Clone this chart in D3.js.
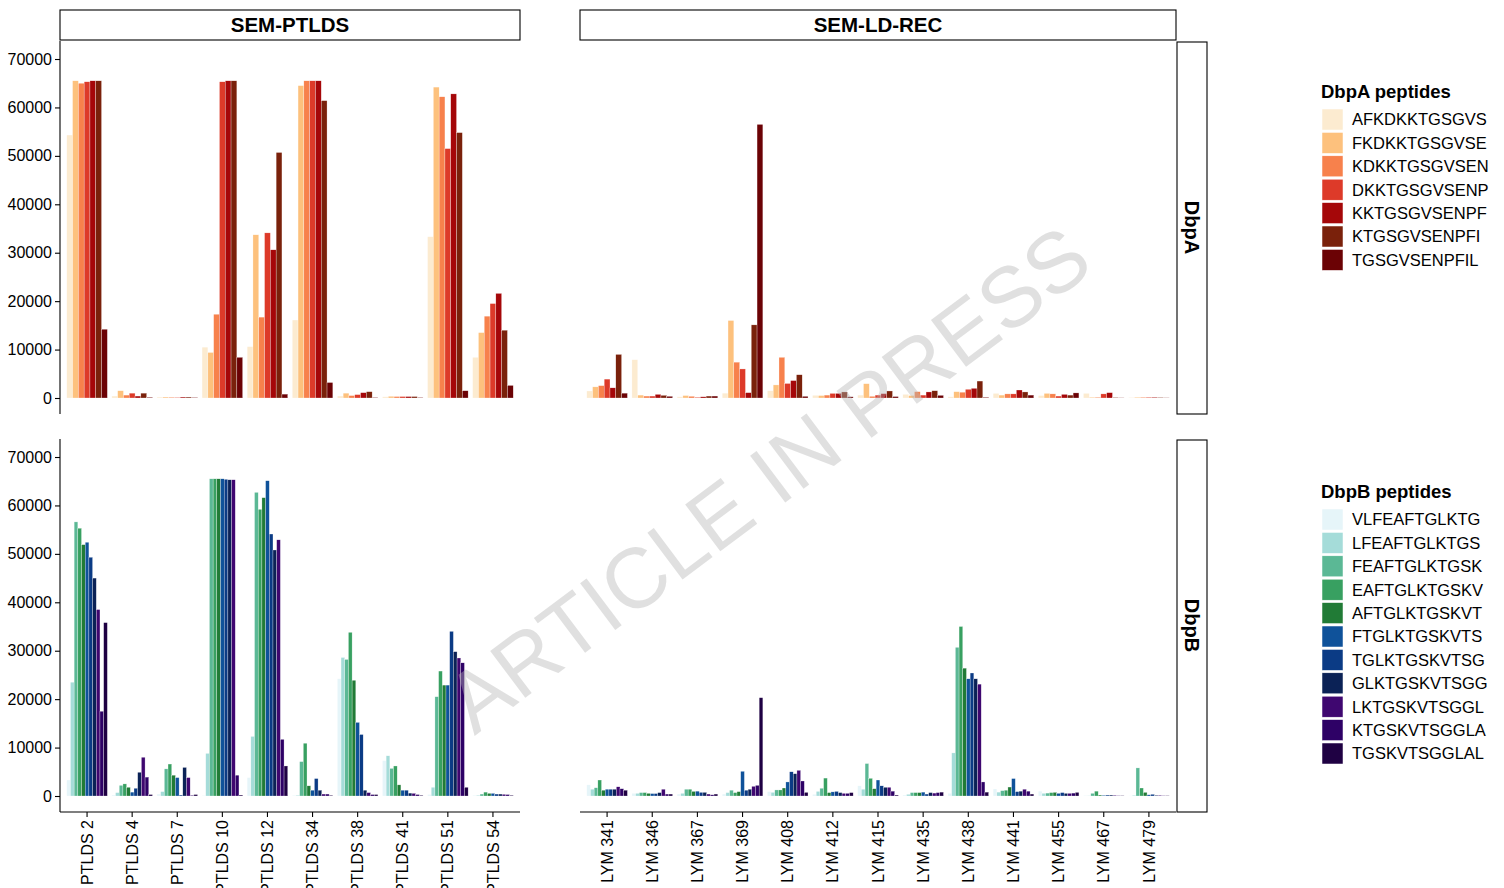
<!DOCTYPE html>
<html>
<head>
<meta charset="utf-8">
<script src="https://cdn.jsdelivr.net/npm/d3@7"></script>
<style>
body { margin: 0; background: #fff; }
text { font-family: "Liberation Sans", Arial, sans-serif; fill: #000; }
</style>
</head>
<body>
<div id="chart"></div>
<script>
// categories
const ptldsPatients = ['PTLDS 2', 'PTLDS 4', 'PTLDS 7', 'PTLDS 10', 'PTLDS 12', 'PTLDS 34', 'PTLDS 38', 'PTLDS 41', 'PTLDS 51', 'PTLDS 54']
const lymPatients = ['LYM 341', 'LYM 346', 'LYM 367', 'LYM 369', 'LYM 408', 'LYM 412', 'LYM 415', 'LYM 435', 'LYM 438', 'LYM 441', 'LYM 455', 'LYM 467', 'LYM 479']

const dbpaPeptides = ['AFKDKKTGSGVS', 'FKDKKTGSGVSE', 'KDKKTGSGVSEN', 'DKKTGSGVSENP', 'KKTGSGVSENPF', 'KTGSGVSENPFI', 'TGSGVSENPFIL']
const dbpbPeptides = ['VLFEAFTGLKTG', 'LFEAFTGLKTGS', 'FEAFTGLKTGSK', 'EAFTGLKTGSKV', 'AFTGLKTGSKVT', 'FTGLKTGSKVTS', 'TGLKTGSKVTSG', 'GLKTGSKVTSGG', 'LKTGSKVTSGGL', 'KTGSKVTSGGLA', 'TGSKVTSGGLAL']

const dbpaColors = ['#fcebd0', '#fdc17d', '#f7814c', '#dd3a29', '#a50709', '#7a210b', '#6b0205']
const dbpbColors = ['#e6f5f9', '#a5dcd9', '#5bb895', '#38a061', '#217b36', '#0f529a', '#0b3b85', '#0b2256', '#3f0770', '#2e0166', '#1f0143']

// y ticks
const yTicks = [0, 10000, 20000, 30000, 40000, 50000, 60000, 70000]

// values, one row per patient, one column per peptide
const dbpaPTLDS = [
    [54300, 65500, 65000, 65300, 65500, 65500, 14200],
    [400, 1500, 600, 1000, 400, 1000, 150],
    [200, 200, 150, 100, 200, 200, 100],
    [10500, 9400, 17300, 65300, 65500, 65500, 8400],
    [10600, 33700, 16700, 34100, 30600, 50700, 800],
    [16100, 64500, 65500, 65500, 65500, 61400, 3200],
    [400, 1000, 500, 700, 1100, 1300, 100],
    [250, 350, 300, 300, 300, 300, 100],
    [33300, 64200, 62200, 51500, 62800, 54800, 1500],
    [8400, 13500, 16900, 19500, 21600, 14000, 2600]
]
const dbpaLYM = [
    [1450, 2300, 2550, 3900, 2100, 9000, 1000],
    [7900, 600, 400, 400, 750, 550, 350],
    [250, 500, 350, 150, 250, 400, 400],
    [1000, 16000, 7400, 6000, 1100, 15100, 56500],
    [1500, 2700, 8400, 3000, 3600, 4800, 350],
    [550, 500, 600, 950, 950, 1250, 250],
    [600, 2950, 350, 600, 900, 1450, 300],
    [750, 500, 1300, 600, 1250, 1500, 550],
    [250, 1300, 1200, 1800, 2000, 3500, 150],
    [950, 600, 850, 850, 1650, 1250, 600],
    [500, 950, 850, 400, 750, 600, 1050],
    [950, 150, 150, 850, 1100, 100, 50],
    [100, 150, 150, 150, 150, 100, 50]
]
const dbpbPTLDS = [
    [3300, 23500, 56600, 55300, 51900, 52400, 49300, 45000, 38500, 17500, 35800],
    [200, 700, 2200, 2500, 1800, 800, 1600, 4900, 8000, 3900, 300],
    [400, 900, 5600, 6600, 4300, 3800, 200, 5900, 3800, 150, 300],
    [100, 8800, 65500, 65500, 65500, 65500, 65400, 65300, 65300, 4300, 200],
    [3800, 12300, 62700, 59200, 61600, 65100, 54100, 50800, 52900, 11700, 6200],
    [150, 150, 7100, 10900, 2100, 1200, 3600, 1200, 400, 400, 150],
    [24200, 28600, 28200, 33800, 23900, 15200, 12700, 1200, 700, 300, 300],
    [7300, 8300, 5700, 6200, 2300, 1200, 1200, 600, 550, 300, 150],
    [300, 1800, 20500, 25800, 22900, 22900, 34000, 29800, 28500, 27500, 1800],
    [150, 150, 400, 800, 550, 550, 400, 400, 350, 300, 150]
]
const dbpbLYM = [
    [2300, 1400, 1700, 3300, 1200, 1400, 1400, 1400, 1900, 1500, 1200],
    [550, 550, 700, 700, 550, 500, 500, 700, 1400, 400, 400],
    [400, 550, 1400, 1400, 950, 1000, 750, 750, 400, 250, 400],
    [400, 700, 1200, 700, 900, 5100, 1200, 1400, 2000, 2200, 20300],
    [900, 750, 1250, 1250, 1650, 2900, 5000, 4600, 5300, 3100, 750],
    [350, 950, 1600, 3700, 700, 850, 950, 700, 550, 550, 700],
    [2100, 1400, 6700, 3650, 1500, 3300, 2100, 1800, 1800, 1000, 200],
    [200, 350, 700, 700, 700, 800, 400, 700, 600, 700, 800],
    [550, 8900, 30700, 35000, 26400, 24200, 25400, 24200, 23100, 2900, 800],
    [1450, 800, 1100, 1200, 1850, 3600, 900, 1000, 1400, 1000, 400],
    [1000, 550, 600, 700, 750, 550, 700, 550, 550, 600, 750],
    [100, 50, 550, 1000, 200, 150, 200, 200, 150, 70, 70],
    [50, 150, 5800, 1650, 750, 250, 350, 150, 150, 70, 70]
]

const width = 1504
const height = 888

const svg = d3.select('#chart').append('svg')
    .attr('width', width)
    .attr('height', height)
    .style('display', 'block')
    .style('background', '#fff')

// panel layout
const cols = [
    {x0: 60, x1: 520, patients: ptldsPatients, strip: 'SEM-PTLDS'},
    {x0: 580, x1: 1176, patients: lymPatients, strip: 'SEM-LD-REC'}
]
const rows = [
    {y0: 41, y1: 414, peptides: dbpaPeptides, colors: dbpaColors, strip: 'DbpA', data: [dbpaPTLDS, dbpaLYM]},
    {y0: 439, y1: 812, peptides: dbpbPeptides, colors: dbpbColors, strip: 'DbpB', data: [dbpbPTLDS, dbpbLYM]}
]

rows.forEach((row, ri) => {
    const y = d3.scaleLinear().domain([-3304, 73720]).range([row.y1, row.y0])
    const color = d3.scaleOrdinal().domain(row.peptides).range(row.colors)

    cols.forEach((col, ci) => {
        const x = d3.scaleBand()
            .domain(col.patients)
            .range([col.x0, col.x1])
            .paddingInner(0)
            .paddingOuter(0.1)
        const bw = x.bandwidth()
        const sub = d3.scaleBand()
            .domain(row.peptides)
            .range([bw * 0.05, bw * 0.95])

        const values = row.data[ci]
        const cells = []
        col.patients.forEach((p, i) => {
            row.peptides.forEach((pep, j) => {
                cells.push({patient: p, peptide: pep, value: values[i][j]})
            })
        })

        svg.append('g')
            .selectAll('rect')
            .data(cells)
            .enter()
            .append('rect')
            .attr('x', d => x(d.patient) + sub(d.peptide))
            .attr('y', d => y(d.value))
            .attr('width', sub.bandwidth())
            .attr('height', d => y(0) - y(d.value))
            .attr('fill', d => color(d.peptide))
            .attr('stroke', '#fff')
            .attr('stroke-width', 0.4)
            .attr('stroke-opacity', 0.7)

        // y axis only on the left column
        if (ci === 0) {
            const ya = svg.append('g')
                .attr('transform', 'translate(' + col.x0 + ',0)')
                .call(d3.axisLeft(y).tickValues(yTicks).tickSize(5).tickPadding(3).tickFormat(d3.format('d')))
            ya.select('.domain').attr('d', 'M0,' + row.y0 + 'V' + row.y1).attr('stroke', '#000').attr('stroke-width', 1.1)
            ya.selectAll('.tick line').attr('stroke', '#000').attr('stroke-width', 1.1)
            ya.selectAll('.tick text').attr('font-size', 16).attr('font-family', '"Liberation Sans", Arial, sans-serif').attr('fill', '#000')
        }

        // x axis only on the bottom row
        if (ri === 1) {
            const xa = svg.append('g')
                .attr('transform', 'translate(0,' + row.y1 + ')')
                .call(d3.axisBottom(x).tickSize(5).tickSizeOuter(0))
            xa.select('.domain').attr('d', 'M' + col.x0 + ',0H' + col.x1).attr('stroke', '#000').attr('stroke-width', 1.1)
            xa.selectAll('.tick line').attr('stroke', '#000').attr('stroke-width', 1.1)
            xa.selectAll('.tick text')
                .attr('font-size', 16)
                .attr('font-family', '"Liberation Sans", Arial, sans-serif')
                .attr('fill', '#000')
                .attr('text-anchor', 'end')
                .attr('transform', 'translate(0,8) rotate(-90)')
                .attr('x', 0)
                .attr('y', 0)
                .attr('dy', '0.35em')
        }

        // top strips
        if (ri === 0) {
            svg.append('rect')
                .attr('x', col.x0).attr('y', 10)
                .attr('width', col.x1 - col.x0).attr('height', 30)
                .attr('fill', '#fff').attr('stroke', '#000').attr('stroke-width', 1.1)
            svg.append('text')
                .attr('x', (col.x0 + col.x1) / 2).attr('y', 25)
                .attr('dy', '0.36em')
                .attr('text-anchor', 'middle')
                .attr('font-size', 20.5).attr('font-weight', 'bold')
                .text(col.strip)
        }
    })

    // right strips
    svg.append('rect')
        .attr('x', 1177).attr('y', row.y0 + 1)
        .attr('width', 30).attr('height', row.y1 - row.y0 - 1)
        .attr('fill', '#fff').attr('stroke', '#000').attr('stroke-width', 1.1)
    svg.append('text')
        .attr('transform', 'translate(1192,' + (row.y0 + row.y1) / 2 + ') rotate(90)')
        .attr('dy', '0.36em')
        .attr('text-anchor', 'middle')
        .attr('font-size', 20).attr('font-weight', 'bold')
        .text(row.strip)

    // legend
    const lg = svg.append('g')
        .attr('transform', 'translate(1321,' + (ri === 0 ? 98 : 498) + ')')
    lg.append('text')
        .attr('x', 0).attr('y', 0)
        .attr('font-size', 18.5).attr('font-weight', 'bold')
        .text(row.strip + ' peptides')
    const items = lg.selectAll('.item')
        .data(row.peptides)
        .enter()
        .append('g')
        .attr('class', 'item')
        .attr('transform', (d, i) => 'translate(0,' + (11 + i * 23.4) + ')')
    items.append('rect')
        .attr('x', 1).attr('y', 0)
        .attr('width', 21).attr('height', 21)
        .attr('fill', d => color(d))
        .attr('stroke', '#fff').attr('stroke-width', 0.5)
    items.append('text')
        .attr('x', 31).attr('y', 10.5)
        .attr('dy', '0.36em')
        .attr('font-size', 16.5)
        .text(d => d)
})

// watermark
svg.append('text')
    .attr('transform', 'translate(767,478) rotate(-36.9)')
    .attr('text-anchor', 'middle')
    .attr('dy', '0.36em')
    .attr('font-size', 85)
    .style('fill', '#b4b4b4')
    .style('fill-opacity', 0.42)
    .text('ARTICLE IN PRESS')
</script>
</body>
</html>
